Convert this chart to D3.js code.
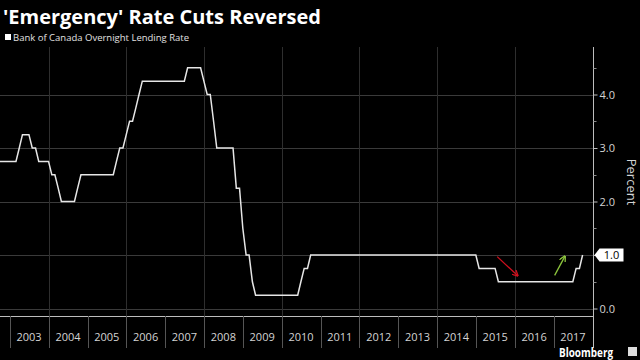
<!DOCTYPE html>
<html>
<head>
<meta charset="utf-8">
<script src="https://cdn.jsdelivr.net/npm/d3@7"></script>
<style>
  html, body { margin: 0; padding: 0; background: #000; }
  svg { display: block; }
  text { font-family: "Open Sans", "Noto Sans", sans-serif; }
</style>
</head>
<body>
<script>
// ---- Data (month-end values where the rate changes / plateaus end) ----
const months = [
  "2002-08","2003-02","2003-03","2003-04","2003-06","2003-07","2003-08","2003-09","2003-12",
  "2004-01","2004-02","2004-03","2004-04","2004-08","2004-09","2004-10",
  "2005-08","2005-09","2005-10","2005-11","2005-12",
  "2006-01","2006-02","2006-03","2006-04","2006-05",
  "2007-06","2007-07","2007-11","2007-12",
  "2008-01","2008-02","2008-03","2008-04","2008-09","2008-10","2008-11","2008-12",
  "2009-01","2009-02","2009-03","2009-04",
  "2010-05","2010-06","2010-07","2010-08","2010-09",
  "2014-12","2015-01","2015-06","2015-07",
  "2017-06","2017-07","2017-08","2017-09"
];
const rates = [
  2.75,2.75,3.00,3.25,3.25,3.00,3.00,2.75,2.75,
  2.50,2.50,2.25,2.00,2.00,2.25,2.50,
  2.50,2.75,3.00,3.00,3.25,
  3.50,3.50,3.75,4.00,4.25,
  4.25,4.50,4.50,4.25,
  4.00,4.00,3.50,3.00,3.00,2.25,2.25,1.50,
  1.00,1.00,0.50,0.25,
  0.25,0.50,0.75,0.75,1.00,
  1.00,0.75,0.75,0.50,
  0.50,0.75,0.75,1.00
];
const yearLabels = ["2003","2004","2005","2006","2007","2008","2009","2010","2011","2012","2013","2014","2015","2016","2017"];
const yTicks = [0, 1, 2, 3, 4];
const yMinorTicks = [0.5, 1.5, 2.5, 3.5, 4.5];
const lastValueLabel = 1.0;
const titleText = "'Emergency' Rate Cuts Reversed";
const legendText = "Bank of Canada Overnight Lending Rate";
const axisTitle = "Percent";
const sourceText = "Bloomberg";

// ---- Layout ----
const W = 640, H = 360;
const axisX = 593.5;
const plotTop = 47, plotBottom = 316;

const svg = d3.select("body").append("svg").attr("width", W).attr("height", H);
svg.append("rect").attr("width", W).attr("height", H).attr("fill", "#000");

const parseMonth = s => { const [y, m] = s.split("-").map(Number); return new Date(y, m, 0); };
const data = months.map((m, i) => ({ date: parseMonth(m), value: rates[i] }));

const x = d3.scaleTime()
  .domain([new Date(2003, 0, 1), new Date(2018, 0, 1)])
  .range([9.8, 592.5]);
const y = d3.scaleLinear().domain([0, 4]).range([308.5, 94.5]);

// clip
svg.append("clipPath").attr("id", "clip")
  .append("rect").attr("x", 0).attr("y", plotTop).attr("width", axisX).attr("height", plotBottom - plotTop);

// horizontal gridlines
svg.append("g").selectAll("line").data(yTicks).join("line")
  .attr("x1", 0).attr("x2", axisX)
  .attr("y1", d => Math.round(y(d)) + 0.5).attr("y2", d => Math.round(y(d)) + 0.5)
  .attr("stroke", "#3a3a3a").attr("stroke-width", 1);

// vertical gridlines every two years
const gridYears = d3.range(2004, 2018, 2).map(yr => new Date(yr, 0, 1));
svg.append("g").selectAll("line").data(gridYears).join("line")
  .attr("x1", d => Math.round(x(d)) + 0.5).attr("x2", d => Math.round(x(d)) + 0.5)
  .attr("y1", plotTop).attr("y2", plotBottom)
  .attr("stroke", "#2e2e2e").attr("stroke-width", 1);

// bottom border line
svg.append("line").attr("x1", 0).attr("x2", axisX).attr("y1", plotBottom + 0.5).attr("y2", plotBottom + 0.5)
  .attr("stroke", "#bdbdbd").attr("stroke-width", 1);

// year separators & labels
const yearBounds = d3.range(2003, 2019).map(yr => new Date(yr, 0, 1));
svg.append("g").selectAll("line").data(yearBounds.slice(0, -1)).join("line")
  .attr("x1", d => Math.round(x(d)) + 0.5).attr("x2", d => Math.round(x(d)) + 0.5)
  .attr("y1", plotBottom).attr("y2", 348)
  .attr("stroke", "#555").attr("stroke-width", 1);
svg.append("g").selectAll("text").data(yearLabels).join("text")
  .attr("x", d => x(new Date(+d, 6, 1)))
  .attr("y", 340.5)
  .attr("text-anchor", "middle")
  .attr("fill", "#d4d4d4").attr("font-size", 11)
  .text(d => d);

// right axis
const yAxis = d3.axisRight(y).tickValues(yTicks).tickSize(4).tickPadding(2).tickFormat(d3.format(".1f"));
const gAxis = svg.append("g").attr("transform", `translate(${axisX},0)`).call(yAxis);
gAxis.select(".domain").remove();
gAxis.selectAll("line").attr("stroke", "#bdbdbd");
gAxis.selectAll("text").attr("fill", "#d4d4d4").attr("font-size", 11)
  .attr("font-family", "'Open Sans', 'Noto Sans', sans-serif");
gAxis.selectAll(".tick").filter(d => d === lastValueLabel).select("text").attr("opacity", 0);
svg.append("line").attr("x1", axisX).attr("x2", axisX).attr("y1", plotTop).attr("y2", 348)
  .attr("stroke", "#bdbdbd").attr("stroke-width", 1);
svg.append("g").selectAll("line").data(yMinorTicks).join("line")
  .attr("x1", axisX).attr("x2", axisX + 3)
  .attr("y1", d => Math.round(y(d)) + 0.5).attr("y2", d => Math.round(y(d)) + 0.5)
  .attr("stroke", "#8a8a8a");

// axis title
svg.append("text")
  .attr("transform", `translate(627,182) rotate(90)`)
  .attr("text-anchor", "middle").attr("fill", "#d4d4d4").attr("font-size", 13)
  .text(axisTitle);

// line
const line = d3.line().x(d => x(d.date)).y(d => y(d.value));
svg.append("path").datum(data).attr("clip-path", "url(#clip)")
  .attr("d", line).attr("fill", "none")
  .attr("stroke", "#e6e6e6").attr("stroke-width", 1.5).attr("stroke-linejoin", "miter");

// last value label box
const ly = y(lastValueLabel);
const lb = svg.append("g");
lb.append("path")
  .attr("d", `M${axisX + 1},${ly} L${axisX + 6},${ly - 6.5} L${axisX + 30},${ly - 6.5} L${axisX + 30},${ly + 6.5} L${axisX + 6},${ly + 6.5} Z`)
  .attr("fill", "#ffffff");
lb.append("text").attr("x", axisX + 18).attr("y", ly + 4).attr("text-anchor", "middle")
  .attr("fill", "#000").attr("font-size", 11).text(d3.format(".1f")(lastValueLabel));

// annotation arrows
const defs = svg.append("defs");
function marker(id, color) {
  defs.append("marker").attr("id", id).attr("viewBox", "0 0 10 10").attr("refX", 8).attr("refY", 5)
    .attr("markerWidth", 5).attr("markerHeight", 5).attr("orient", "auto")
    .append("path").attr("d", "M0,0 L10,5 L0,10").attr("fill", "none").attr("stroke", color).attr("stroke-width", 2);
}
marker("arrRed", "#d0101e");
marker("arrGreen", "#8cc43c");
svg.append("line")
  .attr("x1", x(new Date(2015, 6, 20))).attr("y1", y(0.97))
  .attr("x2", x(new Date(2016, 0, 25))).attr("y2", y(0.62))
  .attr("stroke", "#d0101e").attr("stroke-width", 1.3).attr("marker-end", "url(#arrRed)");
svg.append("line")
  .attr("x1", x(new Date(2017, 0, 10))).attr("y1", y(0.62))
  .attr("x2", x(new Date(2017, 3, 15))).attr("y2", y(0.97))
  .attr("stroke", "#8cc43c").attr("stroke-width", 1.3).attr("marker-end", "url(#arrGreen)");

// title & legend
svg.append("text").attr("x", 3).attr("y", 24).attr("fill", "#fff")
  .attr("font-size", 20).attr("font-weight", "bold").text(titleText);
svg.append("rect").attr("x", 5).attr("y", 34).attr("width", 6).attr("height", 6).attr("fill", "#fff");
svg.append("text").attr("x", 13).attr("y", 40.5).attr("fill", "#e0e0e0")
  .attr("font-size", 9.5).text(legendText);

// source
svg.append("text").attr("x", 559).attr("y", 356.6).attr("fill", "#fff")
  .attr("font-size", 12).attr("font-weight", "bold")
  .attr("textLength", 54).attr("lengthAdjust", "spacingAndGlyphs").text(sourceText);
svg.append("rect").attr("x", 628).attr("y", 347).attr("width", 9).attr("height", 9).attr("fill", "#ddd");
</script>
</body>
</html>
